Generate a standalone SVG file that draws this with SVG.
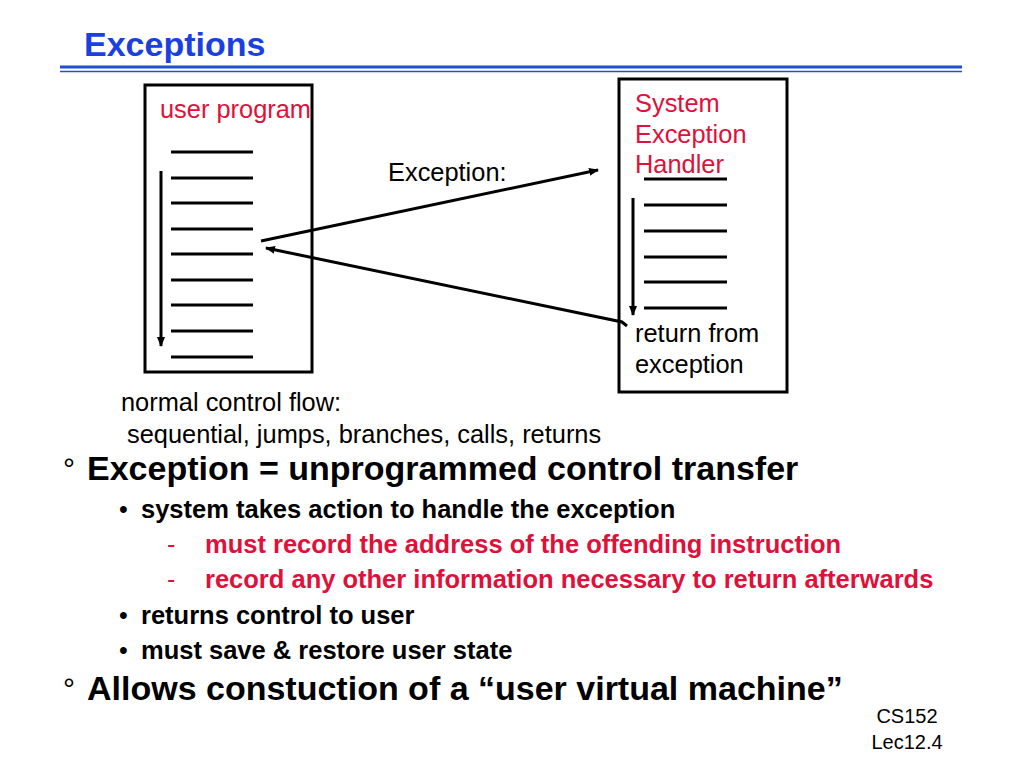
<svg xmlns="http://www.w3.org/2000/svg" width="1024" height="768" viewBox="0 0 1024 768">
<defs>
<marker id="ah" markerWidth="10" markerHeight="8" refX="9" refY="4" orient="auto" markerUnits="userSpaceOnUse">
<path d="M0,0 L10,4 L0,8 Z" fill="#000"/>
</marker>
<style>
text{font-family:"Liberation Sans",Arial,sans-serif;}
.t{font-size:25.4px;fill:#000;}
.r{font-size:25.4px;fill:#e0103a;}
.b1{font-size:34px;font-weight:bold;fill:#000;}
.b2{font-size:25.5px;font-weight:bold;fill:#000;}
.b2r{font-size:25.5px;font-weight:bold;fill:#e0103a;}
.deg{font-size:30px;fill:#000;}
.bul{font-size:25px;fill:#000;}
.dash{font-size:25px;fill:#e0103a;}
.box{fill:none;stroke:#000;stroke-width:3;}
.ln{stroke:#000;stroke-width:3;}
.ar{stroke:#000;stroke-width:3;fill:none;marker-end:url(#ah);}
</style>
</defs>
<rect width="1024" height="768" fill="#fff"/>
<text x="84" y="56" style="font-size:34px;font-weight:bold;fill:#1a40e0;">Exceptions</text>
<line x1="60" y1="67" x2="962" y2="67" stroke="#1e50d0" stroke-width="3"/>
<line x1="60" y1="71.5" x2="962" y2="71.5" stroke="#1e50d0" stroke-width="1.5"/>

<g id="user-program">
<rect class="box" x="145" y="85" width="167" height="287"/>
<text class="r" x="160" y="118">user program</text>
<line class="ln" x1="171" y1="152" x2="253" y2="152"/>
<line class="ln" x1="171" y1="178" x2="253" y2="178"/>
<line class="ln" x1="171" y1="203" x2="253" y2="203"/>
<line class="ln" x1="171" y1="229" x2="253" y2="229"/>
<line class="ln" x1="171" y1="254" x2="253" y2="254"/>
<line class="ln" x1="171" y1="280" x2="253" y2="280"/>
<line class="ln" x1="171" y1="305" x2="253" y2="305"/>
<line class="ln" x1="171" y1="331" x2="253" y2="331"/>
<line class="ln" x1="171" y1="357" x2="253" y2="357"/>
<line class="ar" x1="161" y1="171" x2="161" y2="346"/>
</g>

<g id="system-exception-handler">
<rect class="box" x="619" y="79" width="168" height="313"/>
<text class="r" x="635" y="112">System</text>
<text class="r" x="635" y="143">Exception</text>
<text class="r" x="635" y="173">Handler</text>
<line class="ln" x1="644" y1="179" x2="727" y2="179"/>
<line class="ln" x1="644" y1="205" x2="727" y2="205"/>
<line class="ln" x1="644" y1="231" x2="727" y2="231"/>
<line class="ln" x1="644" y1="257" x2="727" y2="257"/>
<line class="ln" x1="644" y1="282" x2="727" y2="282"/>
<line class="ln" x1="644" y1="308" x2="727" y2="308"/>
<line class="ar" x1="633" y1="198" x2="633" y2="315"/>
<text class="t" x="635" y="342">return from</text>
<text class="t" x="635" y="373">exception</text>
</g>

<g id="connectors">
<line class="ar" x1="261" y1="241" x2="598" y2="170"/>
<polyline class="ar" points="627,326 622,322 266,248"/>
<text class="t" x="388" y="181">Exception:</text>
</g>

<text class="t" x="121" y="411">normal control flow:</text>
<text class="t" x="127" y="443">sequential, jumps, branches, calls, returns</text>

<text class="deg" x="63" y="479">°</text>
<text class="b1" x="87" y="480">Exception = unprogrammed control transfer</text>
<text class="bul" x="119" y="518">•</text>
<text class="b2" x="141" y="518">system takes action to handle the exception</text>
<text class="dash" x="167" y="553">-</text>
<text class="b2r" x="205" y="553">must record the address of the offending instruction</text>
<text class="dash" x="167" y="588">-</text>
<text class="b2r" x="205" y="588">record any other information necessary to return afterwards</text>
<text class="bul" x="119" y="624">•</text>
<text class="b2" x="141" y="624">returns control to user</text>
<text class="bul" x="119" y="659">•</text>
<text class="b2" x="141" y="659">must save &amp; restore user state</text>
<text class="deg" x="63" y="699">°</text>
<text class="b1" x="87" y="700">Allows constuction of a “user virtual machine”</text>

<text x="907" y="723" text-anchor="middle" style="font-size:20px;fill:#000">CS152</text>
<text x="907" y="749" text-anchor="middle" style="font-size:20px;fill:#000">Lec12.4</text>
</svg>
